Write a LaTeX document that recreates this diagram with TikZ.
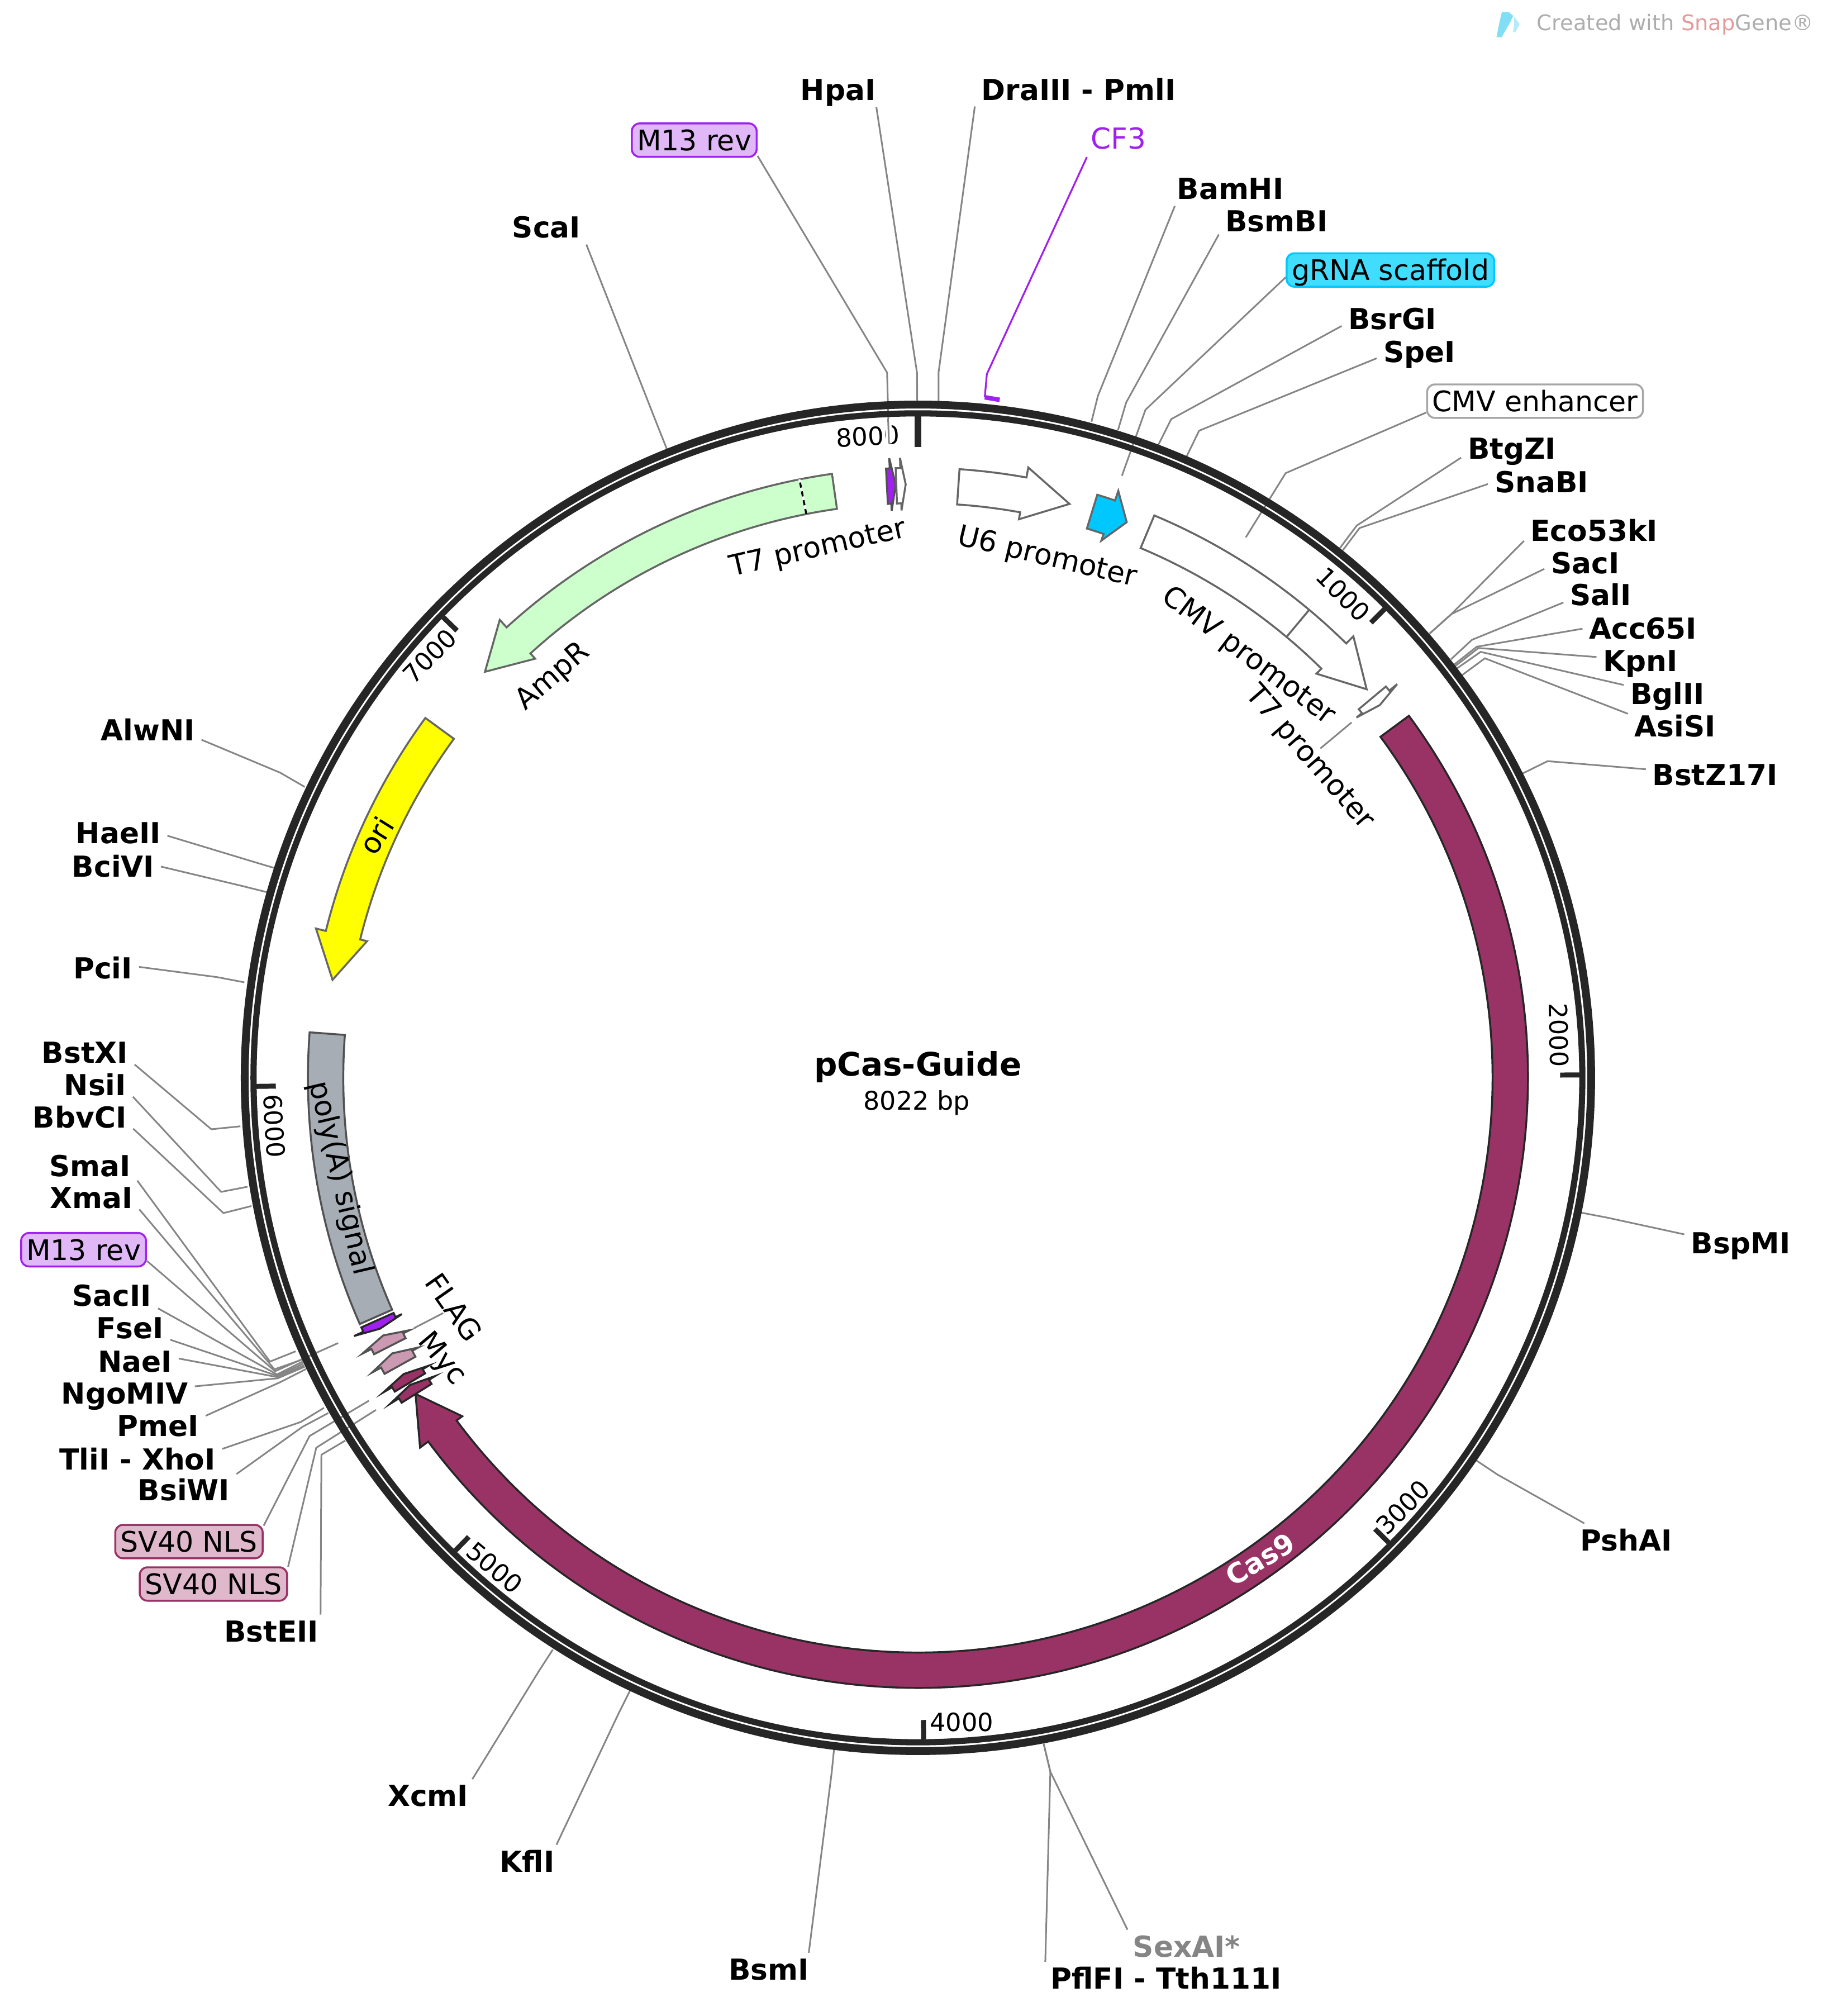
\documentclass[tikz,border=0pt]{standalone}
\usepackage{fontspec}
\setmainfont{DejaVu Sans}
\definecolor{ringdark}{HTML}{262626}
\definecolor{edgegrey}{HTML}{666666}
\definecolor{linegrey}{HTML}{858585}
\definecolor{casred}{HTML}{993366}
\definecolor{tagpink}{HTML}{CC99B3}
\definecolor{nlspink}{HTML}{E0B8CC}
\definecolor{primer}{HTML}{A020F0}
\definecolor{primerbg}{HTML}{E0B8F8}
\definecolor{scaffold}{HTML}{00C8FF}
\definecolor{scaffoldbg}{HTML}{40DDFF}
\definecolor{ampgreen}{HTML}{CCFFCC}
\definecolor{oriyellow}{HTML}{FFFF00}
\definecolor{polygrey}{HTML}{A6ADB5}
\definecolor{markgrey}{HTML}{ADADAD}
\definecolor{markred}{HTML}{E39A9A}
\definecolor{markblue}{HTML}{80DFF5}
\definecolor{markpale}{HTML}{B5ECFA}
\tikzset{
  site/.style={font=\fontsize{22.5}{24}\selectfont\bfseries, inner xsep=5pt, inner ysep=5pt, text height=16pt, text depth=0pt},
  siteline/.style={linegrey, line width=1.3pt},
  tagbox/.style={font=\fontsize{22}{24}\selectfont, rounded corners=6pt, line width=1.5pt, inner xsep=4pt, inner ysep=0pt, minimum height=26pt, text height=16pt, text depth=0pt},
  featlbl/.style={font=\fontsize{22.5}{24}\selectfont, inner sep=1pt, text height=16pt, text depth=0pt},
  ticklbl/.style={font=\fontsize{19.5}{22}\selectfont, inner sep=0pt, text height=15pt, text depth=0pt},
  feature/.style={line width=1.5pt, draw=edgegrey},
  tickmark/.style={ringdark, line width=3.9pt}
}
\begin{document}
\begin{tikzpicture}[x=1pt,y=-1pt]
  \useasboundingbox (0,0) rectangle (1425,1568);

  % watermark
  \fill[markblue] (1168.2,9.4) -- (1173.5,9.4) -- (1177,12.3) -- (1174.3,18) -- (1168,29) -- (1164,29) -- (1165.7,20.3) -- cycle;
  \fill[markpale] (1177.8,13) -- (1182,18.8) -- (1178.6,25.3) -- (1177,24.6) -- (1177.8,18.8) -- cycle;
  \node[font=\fontsize{16.7}{18}\selectfont, inner sep=0pt] (mark) at (1303,19)
    {\textcolor{markgrey}{Created with }\textcolor{markred}{Snap}\textcolor{markgrey}{Gene®}};

  % ruler numbers
  \foreach \n/\cx/\cy/\rot in {1000/1045/462/-45, 2000/1213/805/-89, 3000/1091/1172/45, 4000/748/1339/0,
                               5000/385/1219/-40, 6000/213.7/875.7/-86.5, 7000/334/510/45, 8000/675/339/3} {
    \node[ticklbl, rotate=\rot] (num\n) at (\cx,\cy) {\n};
  }

  % enzyme sites
  \foreach \nm/\txt/\cx/\cy/\ang/\kx/\ky/\rx/\ry in {
      scai/ScaI/425/177/-23/511.6/331.4/519/350,
      hpai/HpaI/652/70/-24/713.3/290/713.5/314,
      dra/DraIII - PmlI/839/70/189.3/730/290/730/314,
      bam/BamHI/957/147/197/854/307.9/849/328,
      bsmb/BsmBI/993/172/193/876/313/869.6/334.6,
      bsrg/BsrGI/1083/248/188/911/326/901/346,
      spe/SpeI/1104/274/188/932.7/335/923/355,
      btgz/BtgZI/1176/349/190/1055.3/408.8/1042.3/426.2,
      snab/SnaBI/1199/375/182/1057.5/410.7/1044.5/428,
      eco/Eco53kI/1240/413/188/1129/477.6/1112/492.8,
      saci/SacI/1233/438/188.5/1129/477.6/1112/492.8,
      sali/SalI/1245/463/191/1145/497.6/1128.6/512.8,
      acc/Acc65I/1278/489/180/1148.7/503/1131/517,
      kpn/KpnI/1276/514/175/1150/504/1132/518,
      bgl/BglII/1297/540/168/1151.7/507/1133.4/519.8,
      asis/AsiSI/1303/565/165/1155/512/1137/525.3,
      bstz/BstZ17I/1334/603/175/1203.8/592/1184.5/601.5,
      bspm/BspMI/1354/967/171/1250/947/1229/943,
      psha/PshAI/1265/1198/158/1165/1147/1147/1135,
      pfl/PflFI - Tth111I/907/1539/172.1/817/1378/811.8/1356.2,
      bsmi/BsmI/598/1532/23.4/647/1378/649/1358,
      kfl/KflI/410/1448/30.6/481/1333/490/1315,
      xcm/XcmI/333/1397/21.5/419/1300/430/1283,
      bste/BstEII/211/1269/19/250/1131.5/268.6/1120.4,
      bsiw/BsiWI/143/1159/17/235.5/1109.6/255.4/1099,
      tli/TliI - XhoI/107/1135/7/233.9/1106/252/1095,
      pme/PmeI/123/1109/12/218/1075/238/1064.8,
      ngo/NgoMIV/97/1084/6/216/1072/237/1063,
      nae/NaeI/105/1059/4/215.5/1071/236.5/1062,
      fse/FseI/101/1033/344/215.5/1070/236/1060.5,
      sac2/SacII/87/1008/345/215.5/1069/235.5/1059,
      xma/XmaI/71/932/347/213.5/1065/234.6/1057.6,
      sma/SmaI/70/907/343/210/1059/230/1051,
      bbv/BbvCI/62/869/348/173.8/943.5/195.6/938,
      nsi/NsiI/74/844/343/172/927/192.6/923,
      bstx/BstXI/66/819/347/164.4/878.3/187/876,
      pci/PciI/80/753/2/169/760/190/764,
      bci/BciVI/88/674/0/188/689/208/694,
      hae/HaeII/92/648/357/193/669/213/675,
      alw/AlwNI/115/568/350/218/601/237/612} {
    \node[site] (\nm) at (\cx,\cy) {\txt};
    \coordinate (\nm knee) at (\kx,\ky);
    \coordinate (\nm ring) at (\rx,\ry);
    \draw[siteline] (\nm.\ang) -- (\nm knee) -- (\nm ring);
  }
  \node[site, text=linegrey] (sex) at (923,1514) {SexAI*};
  \coordinate (sex knee) at (817,1378);
  \coordinate (sex ring) at (811.8,1356.2);
  \draw[siteline] (sex.164) -- (sex knee) -- (sex ring);

  % feature labels out of the ring
  \foreach \nm/\txt/\cx/\cy/\ang/\kx/\ky/\rx/\ry/\bg/\fg in {
      m13top/M13 rev/540/109/-14/690/289.8/691.5/344.8/primerbg/primer,
      grna/gRNA scaffold/1081.5/210/184/891/318.7/872.7/370/scaffoldbg/scaffold,
      cmvenh/CMV enhancer/1194/312/186/1000/368/969/418/white/black!35,
      m13left/M13 rev/65/972/350/214/1066.5/263/1044.6/primerbg/primer,
      nlsa/SV40 NLS/147/1199/12.8/240.8/1116.9/287/1089.4/nlspink/casred,
      nlsb/SV40 NLS/166/1232/13/246/1126/292.4/1096.6/nlspink/casred} {
    \node[tagbox, fill=\bg, draw=\fg] (\nm) at (\cx,\cy) {\txt};
    \coordinate (\nm knee) at (\kx,\ky);
    \coordinate (\nm end) at (\rx,\ry);
    \draw[siteline] (\nm.\ang) -- (\nm knee) -- (\nm end);
  }
  \coordinate (m13 from) at (690.8,326);
  \coordinate (m13 to) at (691.5,344.8);
  \draw[white, line width=5pt] (m13 from) -- (m13 to);
  \draw[siteline] (m13 from) -- (m13 to);

  % primer
  \node[font=\fontsize{22.5}{24}\selectfont, text=primer, inner sep=6pt, text height=16pt, text depth=0pt] (cf3) at (870,108) {CF3};
  \coordinate (cf3 knee) at (767.6,291);
  \coordinate (cf3 foot) at (766,309);
  \coordinate (cf3 stop) at (777.6,311);
  \draw[primer, line width=1.4pt] (cf3.210.3) -- (cf3 knee) -- (cf3 foot);
  \draw[primer, line width=3.5pt] (cf3 foot) -- (cf3 stop);

  \begin{scope}[shift={(714,838.3)}]
    % backbone
    \draw[ringdark, line width=6.1pt] (0,0) circle (523.65);
    \draw[ringdark, line width=4.8pt] (0,0) circle (516.8);
    \foreach \n in {1000,2000,...,7000} {
      \draw[tickmark] ({\n/8022*360-90}:499.5) -- ({\n/8022*360-90}:514.5);
    }
    \draw[ringdark, line width=5.5pt] (-90:490.6) -- (-90:514.5);

    % features: start / shoulder / tip angle
    \foreach \a/\b/\c/\col/\rim in {
        -36.4/143.4/147.83/casred/ringdark,
        -98.1/-132.4/-136.84/ampgreen/edgegrey,
        -143.85/-166.07/-170.5/oriyellow/edgegrey,
        -86.09/-79.75/-75.2/white/edgegrey,
        -72.9/-71.15/-69.4/scaffold/edgegrey,
        -67.2/-45.4/-40.89/white/edgegrey,
        -39.9/-39.4/-38.9/white/edgegrey,
        -93/-92.65/-92.15/primer/ringdark!80,
        -92.09/-91.66/-91.18/white/edgegrey,
        155.85/155.4/155/primer/ringdark,
        153.06/153.6/154.28/tagpink/edgegrey!80!black,
        150.97/151.64/152.34/tagpink/edgegrey!80!black,
        149.05/149.53/150.06/casred/ringdark,
        147.82/148.3/148.84/casred/ringdark} {
      \draw[feature, fill=\col, draw=\rim] (\a:474.5) arc[start angle=\a, end angle=\b, radius=474.5]
        -- (\b:482.4) -- (\c:461.7) -- (\b:441.5) -- (\b:447)
        arc[start angle=\b, end angle=\a, radius=447] -- cycle;
    }
    \draw[feature, fill=polygrey, draw=ringdark!80] (-175.72:474.5) arc[start angle=-175.72, end angle=-203.8, radius=474.5]
      -- (-203.8:447) arc[start angle=-203.8, end angle=-175.72, radius=447] -- cycle;

    % inner dividers
    \draw[white, line width=1.5pt] (-101.2:447) -- (-101.2:474.5);
    \draw[black, line width=1.5pt, dash pattern=on 4pt off 3pt] (-101.2:447) -- (-101.2:474.5);
    \draw[edgegrey, line width=1.5pt] (-50.1:447.6) -- (-50.1:474);
  \end{scope}

  % feature names
  \foreach \nm/\txt/\cx/\cy/\rot in {
      t7a/T7 promoter/636/425/12.8,
      u6/U6 promoter/815/432/-13.4,
      cmvpro/CMV promoter/972/509/-37,
      amp/AmpR/429/525/41,
      ori/ori/293/650/58,
      polya/poly(A) signal/266/916/-76.9,
      myc/Myc/345/1056/-50} {
    \node[featlbl, rotate=\rot] (\nm) at (\cx,\cy) {\txt};
  }
  \node[featlbl, rotate=-49] (t7b) at (1020,588) {T7 promoter};
  \node[featlbl, rotate=-55] (flag) at (353,1017) {FLAG};
  \node[featlbl, font=\fontsize{21.5}{24}\selectfont\bfseries, rotate=31, text=white] (cas) at (980,1212.5) {Cas9};
  \coordinate (t7b tip) at (1051.3,561.9);
  \coordinate (flag tip) at (322,1033);
  \draw[siteline] (t7b) -- (t7b tip);
  \draw[siteline] (flag) -- (flag tip);

  % title
  \node[font=\fontsize{25.2}{28}\selectfont\bfseries, inner sep=0pt] (title) at (714,830) {pCas-Guide};
  \node[font=\fontsize{20}{22}\selectfont, inner sep=0pt] (size) at (713,858) {8022 bp};
\end{tikzpicture}
\end{document}
